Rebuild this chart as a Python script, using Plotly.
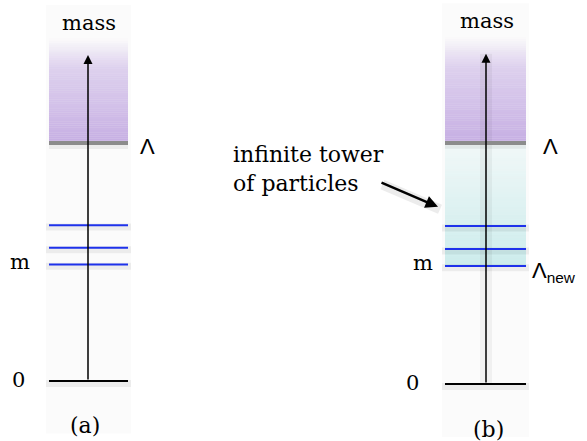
import plotly.graph_objects as go

# ---- data (mass scale: 0 at ground, 1 at cutoff Lambda) ----
panels = ["(a)", "(b)"]
col_left = [49, 445]        # column left edge (x units = px)
col_right = [128, 526]
col_center = [88, 486]
levels = [0.49, 0.56, 0.655]     # particle masses (blue lines), lowest is m
cutoff = 1.0                     # Lambda
lambda_new = 0.49                # Lambda_new in (b)
arrow_top = 1.37
y_ranges = [[-0.252, 1.601], [-0.2365, 1.593]]

FONT_SERIF = "DejaVu Serif"
FONT_SANS = "Liberation Sans"

fig = go.Figure()
fig.add_trace(go.Scatter(x=[0, 587], y=[0, 0], mode="markers", marker=dict(opacity=0), yaxis="y", hoverinfo="skip", showlegend=False))
fig.add_trace(go.Scatter(x=[0, 587], y=[0, 0], mode="markers", marker=dict(opacity=0), yaxis="y2", hoverinfo="skip", showlegend=False))

shapes = []
annotations = []
yrefs = ["y", "y2"]


def lerp(a, b, t):
    return a + (b - a) * t


def purple_alpha(t):
    # t=0 at cutoff, t=1 at top
    if t < 0.72:
        return lerp(0.58, 0.32, t / 0.72)
    return lerp(0.32, 0.0, (t - 0.72) / 0.28)


for i in range(2):
    yr = yrefs[i]
    xl, xr, xc = col_left[i], col_right[i], col_center[i]
    shapes.append(dict(type="rect", xref="x", yref=yr, x0=xl - 3, x1=xr + 3, y0=-0.22, y1=1.58,
                       fillcolor="rgba(0,0,0,0.014)", line=dict(width=0), layer="below"))
    n = 48
    top = arrow_top + 0.07
    for k in range(n):
        t0 = k / n
        t1 = (k + 1) / n
        yb = lerp(cutoff, top, t0)
        yt = lerp(cutoff, top, t1)
        a = purple_alpha((t0 + t1) / 2)
        shapes.append(dict(type="rect", xref="x", yref=yr, x0=xl, x1=xr, y0=yb, y1=yt,
                           fillcolor=f"rgba(160,120,210,{a:.3f})", line=dict(width=0), layer="below"))
    if i == 1:
        for k in range(n):
            t0 = k / n
            t1 = (k + 1) / n
            yb = lerp(lambda_new, cutoff, t0)
            yt = lerp(lambda_new, cutoff, t1)
            a = lerp(0.26, 0.05, (t0 + t1) / 2)
            shapes.append(dict(type="rect", xref="x", yref=yr, x0=xl, x1=xr, y0=yb, y1=yt,
                               fillcolor=f"rgba(70,195,195,{a:.3f})", line=dict(width=0), layer="below"))
        shapes.append(dict(type="rect", xref="x", yref=yr, x0=xc - 6, x1=xc + 6, y0=0, y1=arrow_top,
                           fillcolor="rgba(0,0,0,0.045)", line=dict(width=0), layer="below"))
    shapes.append(dict(type="line", xref="x", yref=yr, x0=xl, x1=xr, y0=cutoff - 0.012, y1=cutoff - 0.012,
                       line=dict(color="rgba(0,0,0,0.06)", width=6), layer="below"))
    shapes.append(dict(type="line", xref="x", yref=yr, x0=xl, x1=xr, y0=cutoff, y1=cutoff,
                       line=dict(color="rgb(140,140,140)", width=4), layer="below"))
    for lv in levels:
        shapes.append(dict(type="line", xref="x", yref=yr, x0=xl - 3, x1=xr + 3, y0=lv - 0.008, y1=lv - 0.008,
                           line=dict(color="rgba(0,0,0,0.06)", width=7), layer="below"))
        shapes.append(dict(type="line", xref="x", yref=yr, x0=xl, x1=xr, y0=lv, y1=lv,
                           line=dict(color="rgb(30,50,235)", width=2)))
    shapes.append(dict(type="line", xref="x", yref=yr, x0=xl - 3, x1=xr + 3, y0=-0.01, y1=-0.01,
                       line=dict(color="rgba(0,0,0,0.06)", width=7), layer="below"))
    shapes.append(dict(type="line", xref="x", yref=yr, x0=xl, x1=xr, y0=0, y1=0,
                       line=dict(color="black", width=2)))
    annotations.append(dict(x=xc, y=arrow_top, xref="x", yref=yr, ax=xc, ay=0, axref="x", ayref=yr,
                            showarrow=True, arrowhead=2, arrowsize=1.2, arrowwidth=1.5, arrowcolor="black", text=""))
    annotations.append(dict(x=xc + 1, y=arrow_top + 0.135, xref="x", yref=yr, text="mass", showarrow=False,
                            font=dict(family=FONT_SERIF, size=21, color="black")))
    annotations.append(dict(x=[147, 550][i], y=cutoff - 0.015, xref="x", yref=yr, text="Λ", showarrow=False,
                            font=dict(family=FONT_SANS, size=22, color="black")))
    annotations.append(dict(x=[20, 423][i], y=levels[0] + 0.012, xref="x", yref=yr, text="m", showarrow=False,
                            font=dict(family=FONT_SERIF, size=21, color="black")))
    annotations.append(dict(x=[18, 412][i], y=0.005, xref="x", yref=yr, text="0", showarrow=False,
                            font=dict(family=FONT_SERIF, size=21, color="black")))
    annotations.append(dict(x=[85, 488][i], y=[-0.185, -0.19][i], xref="x", yref=yr, text=panels[i], showarrow=False,
                            font=dict(family=FONT_SERIF, size=22, color="black")))

annotations.append(dict(x=530, y=lambda_new - 0.025, xref="x", yref="y2", xanchor="left",
                        text="Λ<sub>new</sub>", showarrow=False,
                        font=dict(family=FONT_SANS, size=22, color="black")))
annotations.append(dict(x=231, y=0.893, xref="x", yref="y2", xanchor="left", align="left",
                        text="infinite tower<br>of particles", showarrow=False,
                        font=dict(family=FONT_SERIF, size=22, color="black")))
annotations.append(dict(x=440, y=0.725, xref="x", yref="y2", ax=381, ay=0.83, axref="x", ayref="y2",
                        showarrow=True, arrowhead=0, arrowwidth=10, arrowcolor="rgba(0,0,0,0.07)", text=""))
annotations.append(dict(x=438, y=0.735, xref="x", yref="y2", ax=380, ay=0.838, axref="x", ayref="y2",
                        showarrow=True, arrowhead=2, arrowsize=1.0, arrowwidth=2.5, arrowcolor="black", text=""))

fig.update_layout(
    width=587, height=441, margin=dict(l=0, r=0, t=0, b=0),
    paper_bgcolor="white", plot_bgcolor="white", showlegend=False,
    xaxis=dict(range=[0, 587], visible=False, fixedrange=True),
    yaxis=dict(range=y_ranges[0], visible=False, fixedrange=True),
    yaxis2=dict(range=y_ranges[1], visible=False, overlaying="y", fixedrange=True),
    shapes=shapes, annotations=annotations,
)

fig.write_html("out.html", config={"displayModeBar": False},
               post_script="document.body.style.margin='0px';document.body.style.overflow='hidden';")
